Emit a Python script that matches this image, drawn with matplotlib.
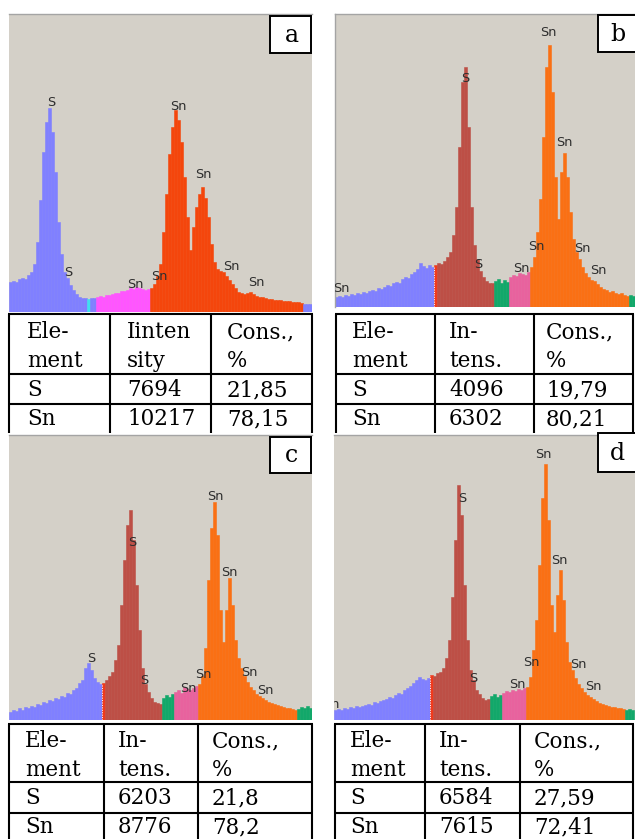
import numpy as np
import matplotlib
matplotlib.use('Agg')
import matplotlib.pyplot as plt
from matplotlib.patches import Rectangle

# ---------------- DATA ----------------
# spectra: counts per channel (3-px channels)
spec_a = [30, 31, 30, 33, 34, 33, 37, 40, 48, 70, 112, 160, 190, 204, 180, 140, 90, 58, 40, 34,
          27, 22, 18, 15, 14, 14, 13, 14, 14, 15, 16, 15, 17, 17, 18, 19, 19, 21, 21, 22,
          24, 23, 25, 24, 23, 22, 23, 24, 28, 36, 48, 80, 118, 158, 185, 202, 192, 170, 135, 95,
          62, 85, 105, 118, 125, 114, 95, 68, 50, 43, 41, 40, 36, 32, 28, 24, 20, 19, 18, 19,
          20, 18, 16, 15, 15, 14, 13, 13, 12, 12, 12, 11, 11, 11, 10, 10, 10, 9, 8, 8, 8]
spec_b = [10, 11, 10, 12, 11, 13, 12, 14, 13, 15, 14, 16, 17, 16, 19, 18, 20, 22, 21, 24,
          25, 24, 28, 30, 29, 33, 35, 38, 44, 41, 39, 42, 40, 42, 44, 43, 46, 50, 55, 72,
          100, 160, 225, 240, 180, 100, 62, 48, 36, 30, 26, 24, 24, 26, 28, 24, 27, 25, 30, 32,
          31, 34, 33, 32, 35, 40, 50, 75, 108, 170, 240, 262, 215, 130, 88, 135, 154, 130, 95, 68,
          55, 48, 40, 34, 30, 27, 26, 23, 20, 18, 17, 15, 16, 14, 13, 14, 12, 11, 12, 11]
spec_c = [8, 10, 9, 12, 10, 13, 12, 14, 13, 16, 15, 18, 17, 20, 19, 22, 21, 24, 23, 27,
          26, 30, 32, 37, 40, 52, 57, 50, 42, 38, 36, 37, 40, 44, 48, 60, 75, 115, 160, 195,
          210, 180, 135, 90, 52, 36, 28, 22, 18, 17, 16, 22, 25, 23, 26, 28, 30, 27, 33, 31,
          30, 32, 34, 36, 44, 72, 140, 192, 218, 185, 110, 78, 110, 142, 115, 80, 62, 52, 44, 38,
          33, 30, 26, 24, 22, 20, 18, 17, 16, 15, 14, 13, 12, 12, 11, 10, 11, 13, 12, 14, 12]
spec_d = [10, 11, 10, 12, 11, 13, 12, 14, 13, 14, 15, 16, 15, 18, 17, 19, 20, 21, 23, 22,
          25, 27, 26, 30, 32, 34, 37, 40, 43, 41, 40, 42, 45, 44, 47, 48, 52, 62, 80, 123,
          180, 235, 205, 135, 80, 50, 40, 30, 26, 22, 20, 21, 24, 26, 23, 25, 27, 29, 28, 30,
          29, 31, 30, 32, 33, 43, 70, 100, 155, 222, 256, 200, 115, 88, 125, 150, 120, 78, 58, 50,
          42, 36, 32, 28, 25, 23, 21, 19, 17, 16, 15, 14, 13, 13, 12, 12, 11, 10, 11, 10]

# element regions: (first channel, region colour)
regions_a = [(0, 'bkg'), (26, 'mark'), (27, 'bkg'), (29, 'snl'), (47, 'sn_a'), (98, 'bkg')]
regions_b = [(0, 'bkg'), (33, 'edge'), (34, 's'), (53, 'grn'), (58, 'snl2'), (65, 'sn'), (98, 'grn')]
regions_c = [(0, 'bkg'), (31, 'edge'), (32, 's'), (51, 'grn'), (55, 'snl2'), (63, 'sn'), (96, 'grn')]
regions_d = [(0, 'bkg'), (32, 'edge'), (33, 's'), (52, 'grn'), (56, 'snl2'), (64, 'sn'), (97, 'grn')]

# peak labels: (text, x px, y px)
labels_a = [('S', 51, 103), ('S', 68, 273), ('Sn', 135, 284), ('Sn', 159, 277), ('Sn', 178, 106),
            ('Sn', 203, 174), ('Sn', 231, 267), ('Sn', 256, 282)]
labels_b = [('Sn', 341, 289), ('S', 465, 79), ('S', 478, 265), ('Sn', 548, 33), ('Sn', 564, 143),
            ('Sn', 536, 247), ('Sn', 521, 268), ('Sn', 582, 249), ('Sn', 598, 271)]
labels_c = [('S', 91, 659), ('S', 132, 543), ('S', 144, 681), ('Sn', 215, 496), ('Sn', 229, 573),
            ('Sn', 203, 674), ('Sn', 188, 688), ('Sn', 249, 672), ('Sn', 265, 691)]
labels_d = [('Sn', 331, 704), ('S', 462, 498), ('S', 473, 678), ('Sn', 543, 454), ('Sn', 559, 561),
            ('Sn', 531, 662), ('Sn', 517, 685), ('Sn', 578, 665), ('Sn', 593, 687)]

panel_letters = ['a', 'b', 'c', 'd']

table_headers = [
    [['Ele-', 'ment'], ['Iinten', 'sity'], ['Cons.,', '%']],
    [['Ele-', 'ment'], ['In-', 'tens.'], ['Cons.,', '%']],
    [['Ele-', 'ment'], ['In-', 'tens.'], ['Cons.,', '%']],
    [['Ele-', 'ment'], ['In-', 'tens.'], ['Cons.,', '%']],
]
elements = ['S', 'Sn']
intensity = [['7694', '10217'], ['4096', '6302'], ['6203', '8776'], ['6584', '7615']]
concentration = [['21,85', '78,15'], ['19,79', '80,21'], ['21,8', '78,2'], ['27,59', '72,41']]

# ---------------- STYLE / LAYOUT ----------------
W, H = 635, 839
COL = {'bkg': '#8080FF', 'mark': '#3FE0F0', 'snl': '#FF55FF', 'sn_a': '#F4460C',
       'edge': '#F03A1C', 's': '#BD4F46', 'grn': '#12A86A', 'snl2': '#E8629E', 'sn': '#FA7014'}
BG = '#D4D0C8'

fig = plt.figure(figsize=(W / 100, H / 100), dpi=100)
fig.patch.set_facecolor('white')


def rect(x0, y0, x1, y1):
    return [x0 / W, 1 - y1 / H, (x1 - x0) / W, (y1 - y0) / H]


panels = [
    dict(box=(9, 14, 312, 312), spec=spec_a, reg=regions_a, lab=labels_a, dot=None, left=False),
    dict(box=(335, 14, 635, 307), spec=spec_b, reg=regions_b, lab=labels_b, dot=33, left=True),
    dict(box=(9, 435, 312, 720), spec=spec_c, reg=regions_c, lab=labels_c, dot=31, left=False),
    dict(box=(334, 435, 635, 720), spec=spec_d, reg=regions_d, lab=labels_d, dot=32, left=False),
]

for p in panels:
    x0, y0, x1, y1 = p['box']
    ax = fig.add_axes(rect(x0, y0, x1, y1))
    ax.set_facecolor(BG)
    spec = p['spec']
    n = len(spec)
    cols = []
    reg = p['reg']
    for i in range(n):
        name = reg[0][1]
        for start, nm in reg:
            if i >= start:
                name = nm
        cols.append(COL[name])
    ax.bar(np.arange(n), spec, width=1.0, align='edge', color=cols, edgecolor=cols, linewidth=0.4)
    if p['dot'] is not None:
        ax.plot([p['dot'], p['dot']], [0, spec[p['dot']] - 1], color='white', lw=0.7, ls=(0, (1, 1.5)))
    ax.set_xlim(0, (x1 - x0) / 3.0)
    ax.set_ylim(0, y1 - y0)
    ax.set_xticks([])
    ax.set_yticks([])
    for s in ['bottom', 'right', 'left']:
        ax.spines[s].set_visible(False)
    ax.spines['top'].set_color('#A4A4A4')
    ax.spines['top'].set_linewidth(1.0)
    if p['left']:
        ax.spines['left'].set_visible(True)
        ax.spines['left'].set_color('#A4A4A4')
        ax.spines['left'].set_linewidth(1.0)
    for txt, px, py in p['lab']:
        ax.text((px - x0) / (x1 - x0), (y1 - py) / (y1 - y0), txt, transform=ax.transAxes,
                ha='center', va='center', fontsize=9.3, color='#2E2E2E', family='DejaVu Sans',
                clip_on=True)

# overlay for tables and letter boxes
ov = fig.add_axes([0, 0, 1, 1], zorder=10)
ov.set_xlim(0, W)
ov.set_ylim(H, 0)
ov.patch.set_alpha(0)
ov.axis('off')

letter_boxes = [(270, 16, 311, 53), (598, 15, 645, 52), (270, 437, 311, 473), (598, 433, 645, 472)]
for (bx0, by0, bx1, by1), let in zip(letter_boxes, panel_letters):
    ov.add_patch(Rectangle((bx0, by0), bx1 - bx0, by1 - by0, facecolor='white',
                           edgecolor='black', lw=1.4, clip_on=False))
    ov.text((bx0 + min(bx1, 635)) / 2 + 1, (by0 + by1) / 2 + 1, let, ha='center', va='center',
            fontsize=17, family='DejaVu Serif', color='black')

tables = [
    dict(cols=[9, 110, 211, 312], top=314, hl=374, rl=404, bot=433, pads=[18, 17, 16], r2=419),
    dict(cols=[336, 435, 534, 633], top=314, hl=374, rl=404, bot=433, pads=[16, 14, 12], r2=419),
    dict(cols=[9, 104, 198, 312], top=724, hl=782, rl=813, bot=845, pads=[16, 14, 14], r2=827),
    dict(cols=[335, 425, 520, 633], top=724, hl=782, rl=813, bot=845, pads=[15, 14, 14], r2=827),
]
LW = 1.5
FS = 15.5
for k, t in enumerate(tables):
    cx = t['cols']
    for x in cx:
        ov.plot([x, x], [t['top'], t['bot']], color='black', lw=LW, solid_capstyle='butt')
    for y in [t['top'], t['hl'], t['rl']]:
        ov.plot([cx[0] - 0.7, cx[-1] + 0.7], [y, y], color='black', lw=LW, solid_capstyle='butt')
    l1 = t['top'] + (t['hl'] - t['top']) * 0.30
    l2 = t['top'] + (t['hl'] - t['top']) * 0.79
    r1 = (t['hl'] + t['rl']) / 2 + 1
    r2 = t['r2']
    for j in range(3):
        xx = cx[j] + t['pads'][j]
        ov.text(xx, l1, table_headers[k][j][0], ha='left', va='center', fontsize=FS,
                family='DejaVu Serif')
        ov.text(xx, l2, table_headers[k][j][1], ha='left', va='center', fontsize=FS,
                family='DejaVu Serif')
    row_vals = [[elements[0], intensity[k][0], concentration[k][0]],
                [elements[1], intensity[k][1], concentration[k][1]]]
    for j in range(3):
        xx = cx[j] + t['pads'][j]
        ov.text(xx, r1, row_vals[0][j], ha='left', va='center', fontsize=FS, family='DejaVu Serif')
        ov.text(xx, r2, row_vals[1][j], ha='left', va='center', fontsize=FS, family='DejaVu Serif')

fig.savefig('out.png', dpi=100, facecolor='white')
